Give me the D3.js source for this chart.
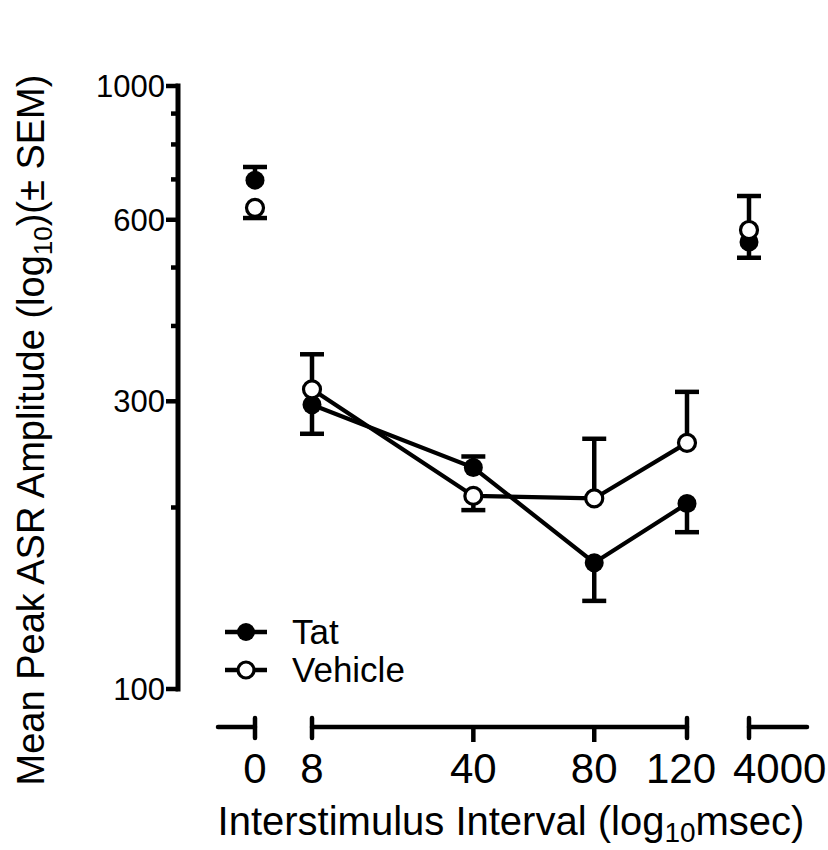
<!DOCTYPE html>
<html>
<head>
<meta charset="utf-8">
<script src="https://cdn.jsdelivr.net/npm/d3@7"></script>
<style>
  body { margin: 0; background: #fff; }
  text { font-family: "Liberation Sans", Arial, sans-serif; fill: #000; }
</style>
</head>
<body>
<div id="chart"></div>
<script>
// data (ASR amplitude, log scale)
const isi = [0, 8, 40, 80, 120, 4000];
const xTickLabels = ["0", "8", "40", "80", "120", "4000"];
const tatMean = [698, 296, 233, 162, 203, 551];
const tatSem = [36, 31, 10, 22, 21, 32];
const vehicleMean = [628, 314, 209, 207, 256, 577];
const vehicleSem = [24, 45, 11, 53, 55, 80];
const seriesNames = ["Tat", "Vehicle"];
const yMajorTicks = [100, 300, 600, 1000];
const yMinorTicks = [200, 400, 500, 700, 800, 900];

const width = 828, height = 850;

const svg = d3.select("#chart").append("svg")
    .attr("width", width)
    .attr("height", height);

let y = d3.scaleLog().domain([100, 1000]).range([689, 86]);

// broken x axis: stub for 0, main part 8..120, stub for 4000
let xLeft = d3.scaleLinear().domain([-1, 0]).range([218, 255]);
let xMain = d3.scaleSqrt().domain([8, 120]).range([312, 687]);
let xRight = d3.scaleLinear().domain([4000, 5000]).range([749, 807]);

function x(v) {
    if (v <= 0) return xLeft(v);
    if (v >= 4000) return xRight(v);
    return xMain(v);
}

let series = [
    {name: seriesNames[0], mean: tatMean, sem: tatSem, filled: true},
    {name: seriesNames[1], mean: vehicleMean, sem: vehicleSem, filled: false}
];
series.forEach(function (s, k) {
    let other = series[1 - k];
    s.points = isi.map(function (v, i) {
        return {isi: v, mean: s.mean[i], sem: s.sem[i], up: s.mean[i] > other.mean[i]};
    });
});

// ---- y axis ----
let yAxis = svg.append("g");
yAxis.append("line")
    .attr("x1", 178).attr("x2", 178)
    .attr("y1", y(1000)).attr("y2", y(100))
    .attr("stroke", "#000").attr("stroke-width", 5).attr("stroke-linecap", "square");

yAxis.selectAll(".major")
    .data(yMajorTicks)
    .enter().append("line")
    .attr("x1", 166).attr("x2", 178)
    .attr("y1", d => y(d)).attr("y2", d => y(d))
    .attr("stroke", "#000").attr("stroke-width", 4.5);

yAxis.selectAll(".minor")
    .data(yMinorTicks)
    .enter().append("line")
    .attr("x1", 171).attr("x2", 178)
    .attr("y1", d => y(d)).attr("y2", d => y(d))
    .attr("stroke", "#000").attr("stroke-width", 4.5);

yAxis.selectAll(".ylab")
    .data(yMajorTicks)
    .enter().append("text")
    .attr("x", 165)
    .attr("y", d => y(d) + 11)
    .attr("text-anchor", "end")
    .style("font-size", "31px")
    .text(d => d);

// ---- x axis (three pieces) ----
let xAxis = svg.append("g");
let axisY = 727;
let pieces = [
    [xLeft.range()[0], x(0)],
    [x(8), x(120)],
    [x(4000), xRight.range()[1]]
];
xAxis.selectAll(".piece")
    .data(pieces)
    .enter().append("line")
    .attr("x1", d => d[0]).attr("x2", d => d[1])
    .attr("y1", axisY).attr("y2", axisY)
    .attr("stroke", "#000").attr("stroke-width", 4.5).attr("stroke-linecap", "round");

// end caps where a piece is cut
xAxis.selectAll(".cap")
    .data([0, 8, 120, 4000])
    .enter().append("line")
    .attr("x1", d => x(d)).attr("x2", d => x(d))
    .attr("y1", axisY - 9).attr("y2", axisY + 11)
    .attr("stroke", "#000").attr("stroke-width", 4.5).attr("stroke-linecap", "round");

xAxis.selectAll(".tick")
    .data([40, 80])
    .enter().append("line")
    .attr("x1", d => x(d)).attr("x2", d => x(d))
    .attr("y1", axisY).attr("y2", axisY + 15)
    .attr("stroke", "#000").attr("stroke-width", 4.5);

xAxis.selectAll(".xlab")
    .data(isi)
    .enter().append("text")
    .attr("x", function (d) {
        if (d == 4000) return x(d) - 16;
        if (d == 120) return x(d) - 6;
        return x(d);
    })
    .attr("y", 783)
    .attr("text-anchor", d => d == 4000 ? "start" : "middle")
    .style("font-size", "42px")
    .text((d, i) => xTickLabels[i]);

// ---- axis titles ----
let xTitle = svg.append("text")
    .attr("x", 511)
    .attr("y", 835)
    .attr("text-anchor", "middle")
    .style("font-size", "40px");
xTitle.append("tspan").text("Interstimulus Interval (log");
xTitle.append("tspan").attr("dy", 7).style("font-size", "28px").text("10");
xTitle.append("tspan").attr("dy", -7).text("msec)");

let yTitle = svg.append("text")
    .attr("transform", "translate(44,430) rotate(-90)")
    .attr("text-anchor", "middle")
    .style("font-size", "38px");
yTitle.append("tspan").text("Mean Peak ASR Amplitude (log");
yTitle.append("tspan").attr("dy", 8).style("font-size", "26px").text("10");
yTitle.append("tspan").attr("dy", -8).text(")(\u00B1 SEM)");

// ---- data ----
let line = d3.line()
    .x(d => x(d.isi))
    .y(d => y(d.mean));

series.forEach(function (s) {
    let g = svg.append("g");

    g.append("path")
        .datum(s.points.filter(d => d.isi >= 8 && d.isi <= 120))
        .attr("d", line)
        .attr("fill", "none")
        .attr("stroke", "#000")
        .attr("stroke-width", 4.2);

    let bars = g.selectAll(".err")
        .data(s.points)
        .enter().append("g");

    bars.append("line")
        .attr("x1", d => x(d.isi)).attr("x2", d => x(d.isi))
        .attr("y1", d => y(d.mean))
        .attr("y2", d => y(d.up ? d.mean + d.sem : d.mean - d.sem))
        .attr("stroke", "#000").attr("stroke-width", 4.5);

    bars.append("line")
        .attr("x1", d => x(d.isi) - 12).attr("x2", d => x(d.isi) + 12)
        .attr("y1", d => y(d.up ? d.mean + d.sem : d.mean - d.sem))
        .attr("y2", d => y(d.up ? d.mean + d.sem : d.mean - d.sem))
        .attr("stroke", "#000").attr("stroke-width", 4.5);

    g.selectAll(".pt")
        .data(s.points)
        .enter().append("circle")
        .attr("cx", d => x(d.isi))
        .attr("cy", d => y(d.mean))
        .attr("r", s.filled ? 9.5 : 8.5)
        .attr("fill", s.filled ? "#000" : "#fff")
        .attr("stroke", "#000")
        .attr("stroke-width", s.filled ? 0 : 3.2);
});

// ---- legend ----
let legend = svg.selectAll(".legend")
    .data(series)
    .enter().append("g")
    .attr("transform", (d, i) => "translate(246," + (632 + i * 38) + ")");

legend.append("line")
    .attr("x1", -21).attr("x2", 21)
    .attr("stroke", "#000").attr("stroke-width", 4.5);

legend.append("circle")
    .attr("r", d => d.filled ? 9 : 8)
    .attr("fill", d => d.filled ? "#000" : "#fff")
    .attr("stroke", "#000")
    .attr("stroke-width", d => d.filled ? 0 : 3.2);

legend.append("text")
    .attr("x", 46)
    .attr("y", 12)
    .style("font-size", "35px")
    .text(d => d.name);
</script>
</body>
</html>
